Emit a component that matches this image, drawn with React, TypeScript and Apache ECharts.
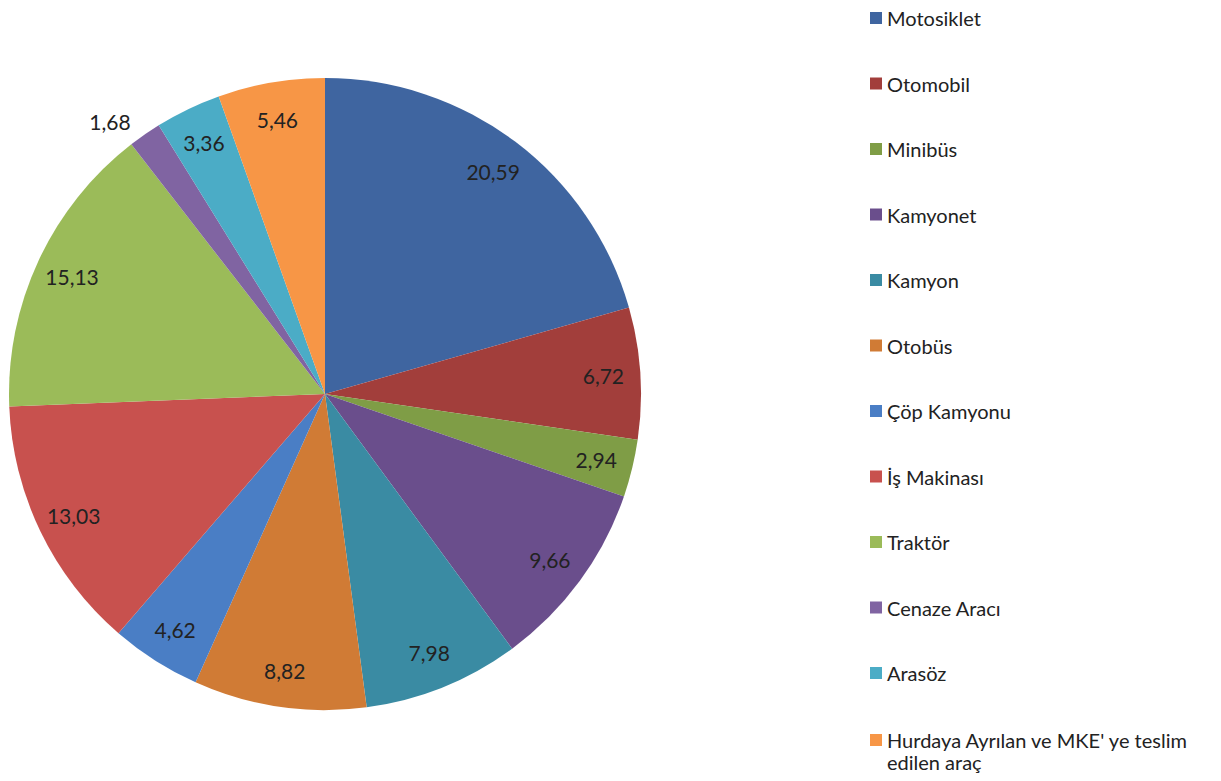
import React, { useEffect, useRef } from "react";
import * as echarts from "echarts";

const categories = [
  "Motosiklet",
  "Otomobil",
  "Minibüs",
  "Kamyonet",
  "Kamyon",
  "Otobüs",
  "Çöp Kamyonu",
  "İş Makinası",
  "Traktör",
  "Cenaze Aracı",
  "Arasöz",
  "Hurdaya Ayrılan ve MKE' ye teslim edilen araç",
];
const values = [20.59, 6.72, 2.94, 9.66, 7.98, 8.82, 4.62, 13.03, 15.13, 1.68, 3.36, 5.46];
const colors = [
  "#3F65A0",
  "#A23E3B",
  "#7F9D46",
  "#6A4E8C",
  "#3A8BA3",
  "#D07B35",
  "#4A7EC5",
  "#C8514E",
  "#9BBB59",
  "#8064A2",
  "#4BACC6",
  "#F79646",
];
const outsideLabels = ["Cenaze Aracı"];

const fmt = (v: number) => v.toFixed(2).replace(".", ",");

export default function App() {
  const ref = useRef<HTMLDivElement>(null);
  useEffect(() => {
    if (!ref.current) return;
    const chart = echarts.init(ref.current, null, { renderer: "svg" });
    const font = "Lato, 'Open Sans', sans-serif";
    const center = [325, 394];
    const R = 316;
    const legendBase = {
      orient: "vertical",
      left: 870,
      padding: 0,
      itemWidth: 12,
      itemHeight: 12,
      itemGap: 43.5,
      icon: "rect",
      textStyle: { fontFamily: font, fontSize: 20, color: "#222", lineHeight: 22, padding: 0 },
    };
    chart.setOption({
      animation: false,
      color: colors,
      legend: [
        { ...legendBase, top: 7, data: categories.slice(0, 11) },
        {
          ...legendBase,
          top: 729,
          itemHeight: 34,
          icon: "path://M0,0L12,0L12,12L0,12Z M0,33.99L0.01,33.99L0.01,34L0,34Z",
          data: categories.slice(11),
          formatter: () => "Hurdaya Ayrılan ve MKE' ye teslim\nedilen araç",
        },
      ],
      series: [
        {
          type: "pie",
          center,
          radius: [0, R],
          startAngle: 90,
          clockwise: true,
          silent: true,
          data: categories.map((c, i) => ({
            name: c,
            value: values[i],
            label: outsideLabels.includes(c)
              ? { show: true, position: "outside", formatter: (p: any) => fmt(p.value) }
              : { show: false },
            labelLine: { show: false, length: 16, length2: 0 },
          })),
          label: { fontFamily: font, fontSize: 21, color: "#222" },
          itemStyle: { borderWidth: 0 },
        },
        {
          type: "pie",
          center,
          radius: [236, R],
          startAngle: 90,
          clockwise: true,
          silent: true,
          legendHoverLink: false,
          data: categories.map((c, i) => ({
            name: c,
            value: values[i],
            label: { show: !outsideLabels.includes(c) },
          })),
          itemStyle: { color: "rgba(0,0,0,0)", borderWidth: 0 },
          label: {
            position: "inside",
            fontFamily: font,
            fontSize: 21,
            color: "#222",
            formatter: (p: any) => fmt(p.value),
          },
          labelLine: { show: false },
        },
      ],
    });
    return () => chart.dispose();
  }, []);
  return (
    <div
      ref={ref}
      style={{ position: "fixed", left: 0, top: 0, width: 1221, height: 781, background: "#fff" }}
    />
  );
}
